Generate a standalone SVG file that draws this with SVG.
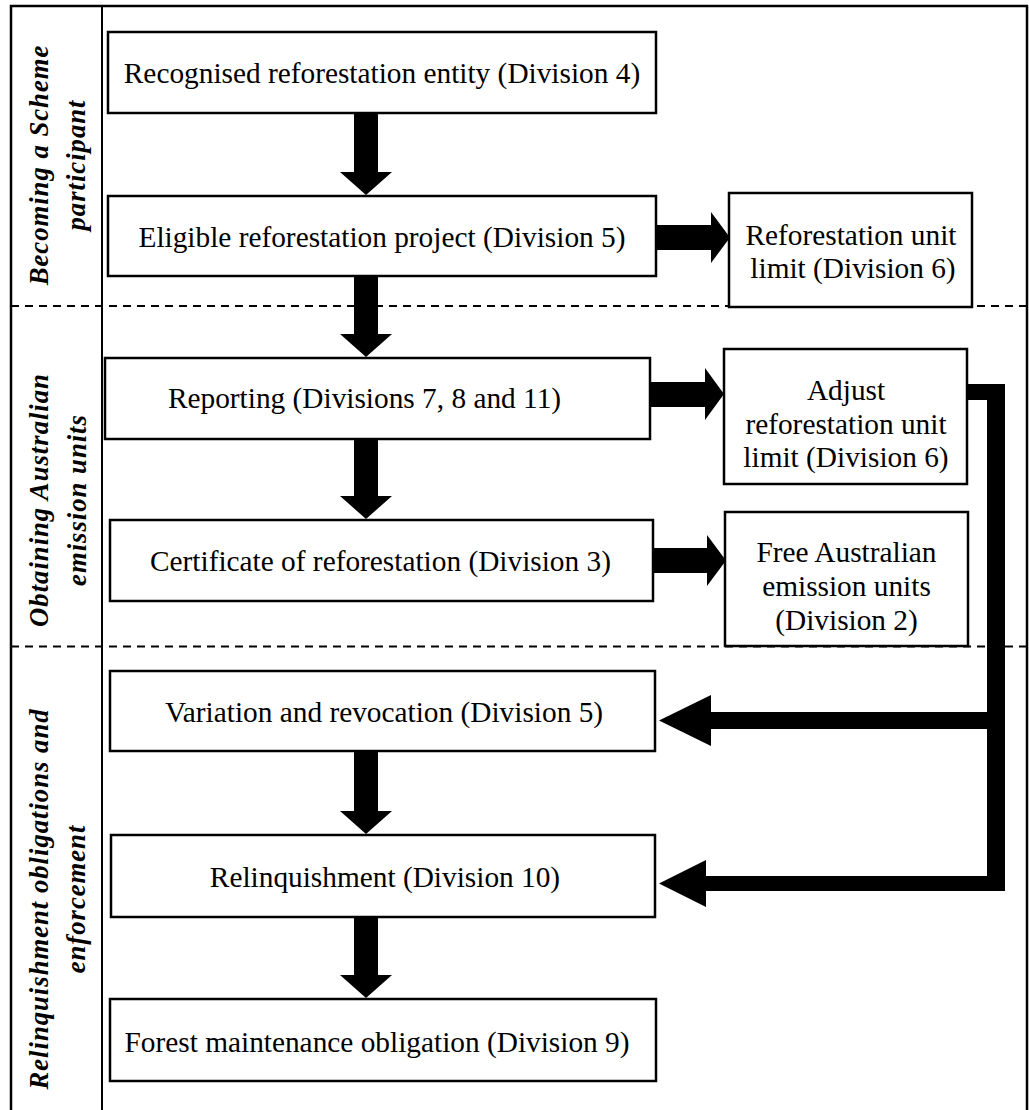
<svg xmlns="http://www.w3.org/2000/svg" width="1029" height="1110" viewBox="0 0 1029 1110">
<style>
.frame{fill:none;stroke:#000;stroke-width:2.5}
.div{fill:none;stroke:#000;stroke-width:2}
.dash{fill:none;stroke:#000;stroke-width:2;stroke-dasharray:8 6}
.box{fill:#fff;stroke:#000;stroke-width:2.5}
.t{font-family:"Liberation Serif","Times New Roman",serif;font-size:29.33px;fill:#000;text-anchor:middle}
.lane{font-family:"Liberation Serif","Times New Roman",serif;font-size:26.67px;font-weight:bold;font-style:italic;letter-spacing:1px;fill:#000;text-anchor:middle}
.arr{fill:#000;stroke:none}
</style>
<rect x="0" y="0" width="1029" height="1110" fill="#fff"/>
<g id="frame">
<path class="frame" d="M11,1112 V6 H1027 V1112"/>
<line class="div" x1="102" y1="6" x2="102" y2="1112"/>
<line class="dash" x1="11" y1="306" x2="1027" y2="306"/>
<line class="dash" x1="11" y1="646.5" x2="1027" y2="646.5"/>
</g>
<g id="lane-becoming">
<text class="lane" transform="translate(48,165) rotate(-90)">Becoming a Scheme</text>
<text class="lane" transform="translate(85,165) rotate(-90)">participant</text>
</g>
<g id="lane-obtaining">
<text class="lane" transform="translate(48,500) rotate(-90)">Obtaining Australian</text>
<text class="lane" transform="translate(86,500) rotate(-90)">emission units</text>
</g>
<g id="lane-relinquishment">
<text class="lane" transform="translate(48,899) rotate(-90)">Relinquishment obligations and</text>
<text class="lane" transform="translate(85,899) rotate(-90)">enforcement</text>
</g>
<g id="connectors">
<polygon class="arr" points="354,113 378,113 378,172 392,172 366,195 340,172 354,172"/>
<polygon class="arr" points="354,276 378,276 378,334 392,334 366,357 340,334 354,334"/>
<polygon class="arr" points="354,439 378,439 378,496 392,496 366,519 340,496 354,496"/>
<polygon class="arr" points="354,751 378,751 378,811 392,811 366,834 340,811 354,811"/>
<polygon class="arr" points="354,917 378,917 378,975 392,975 366,998 340,975 354,975"/>
<polygon class="arr" points="656,225 711,225 711,212 730,237.5 711,263 711,250 656,250"/>
<polygon class="arr" points="650,382 705,382 705,368 724,394 705,420 705,407 650,407"/>
<polygon class="arr" points="653,548 707,548 707,535 726,560.5 707,586 707,573 653,573"/>
<path class="arr" d="M968,384 H1005 V891 H706 V907 L659,883.5 L706,860 V876 H987 V729 H711 V746 L659,720.5 L711,695 V712 H987 V400 H968 Z"/>
</g>
<g id="recognised">
<rect class="box" x="108" y="32" width="548" height="81"/>
<text class="t" x="382" y="83">Recognised reforestation entity (Division 4)</text>
</g>
<g id="eligible">
<rect class="box" x="108" y="196" width="548" height="80"/>
<text class="t" x="382" y="247">Eligible reforestation project (Division 5)</text>
</g>
<g id="unit-limit">
<rect class="box" x="729" y="193" width="243" height="114"/>
<text class="t" x="851" y="245">Reforestation unit</text>
<text class="t" x="853" y="277.5">limit (Division 6)</text>
</g>
<g id="reporting">
<rect class="box" x="105" y="358" width="545" height="81"/>
<text class="t" x="364.5" y="408">Reporting (Divisions 7, 8 and 11)</text>
</g>
<g id="adjust">
<rect class="box" x="724" y="349" width="243" height="135"/>
<text class="t" x="846" y="400">Adjust</text>
<text class="t" x="846" y="433.5">reforestation unit</text>
<text class="t" x="846" y="467">limit (Division 6)</text>
</g>
<g id="certificate">
<rect class="box" x="110" y="520" width="543" height="81"/>
<text class="t" x="380.5" y="571">Certificate of reforestation (Division 3)</text>
</g>
<g id="free-units">
<rect class="box" x="725" y="512" width="243" height="134"/>
<text class="t" x="846.5" y="562">Free Australian</text>
<text class="t" x="846.5" y="596">emission units</text>
<text class="t" x="846.5" y="629.5">(Division 2)</text>
</g>
<g id="variation">
<rect class="box" x="110" y="671" width="545" height="80"/>
<text class="t" x="384" y="722">Variation and revocation (Division 5)</text>
</g>
<g id="relinquishment">
<rect class="box" x="111" y="835" width="544" height="82"/>
<text class="t" x="385" y="887">Relinquishment (Division 10)</text>
</g>
<g id="forest">
<rect class="box" x="110" y="999" width="546" height="82"/>
<text class="t" x="377" y="1052">Forest maintenance obligation (Division 9)</text>
</g>
</svg>
